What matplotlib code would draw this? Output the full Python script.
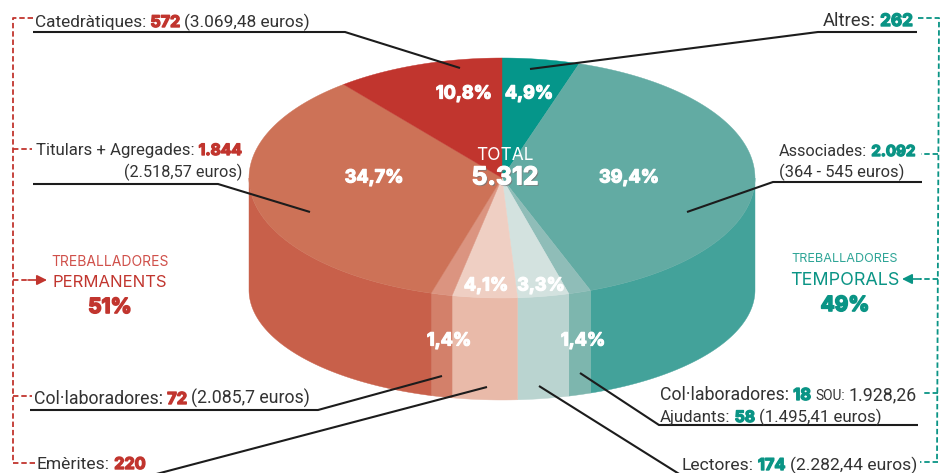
import numpy as np
import matplotlib
matplotlib.use("Agg")
import matplotlib.pyplot as plt
import matplotlib.patheffects as pe

plt.rcParams['font.family'] = ['Inter', 'DejaVu Sans']

# plantilla per categoria, en sentit horari des de dalt
categories = ['Altres', 'Associades', 'Col·lab+Ajudants', 'Lectores', 'Emèrites',
              'Col·laboradores', 'Titulars+Agregades', 'Catedràtiques']
counts = [262, 2092, 76, 174, 220, 72, 1844, 572]
pct_labels = ['4,9%', '39,4%', '1,4%', '3,3%', '4,1%', '1,4%', '34,7%', '10,8%']
top_colors = ['#05968A', '#62ABA3', '#8FBDB8', '#D3E2DF', '#EFCFC3', '#DB9480', '#CD7257', '#C1352E']
side_colors = ['#05968A', '#43A29A', '#7DB6AE', '#BAD4D0', '#E9BAA9', '#D3806A', '#C8604A', '#C1352E']

RED = '#C1352E'
TEAL = '#0A9485'
GREY = '#333333'
CX, CY, RX, RY = 502, 178, 253, 120
BOT_CY, BOT_RY = 290, 110

fig = plt.figure(figsize=(9.43, 4.73), dpi=100)
ax = fig.add_axes([0, 0, 1, 1])
ax.set_xlim(0, 943)
ax.set_ylim(473, 0)
ax.axis('off')
renderer = fig.canvas.get_renderer()


def rim(t, cy=CY, ry=RY):
    return CX + RX * np.sin(t), cy - ry * np.cos(t)


# pastis 3D
edges = 2 * np.pi * np.concatenate([[0], np.cumsum(counts)]) / sum(counts)
for i in range(len(counts)):
    a, b = max(edges[i], np.pi / 2), min(edges[i + 1], 3 * np.pi / 2)
    if b > a:
        t = np.linspace(a, b, 80)
        x1, y1 = rim(t)
        x2, y2 = rim(t[::-1], BOT_CY, BOT_RY)
        ax.fill(np.r_[x1, x2], np.r_[y1, y2], color=side_colors[i], lw=0.3, zorder=1)
for i in range(len(counts)):
    t = np.linspace(edges[i], edges[i + 1], 120)
    x1, y1 = rim(t)
    ax.fill(np.r_[CX, x1], np.r_[CY, y1], color=top_colors[i], lw=0.3, zorder=2)

# percentatges
pct_pos = [(529, 94), (629, 178), (583, 341), (541, 286), (486, 286), (449, 341), (374, 178), (464, 94)]
for lab, (px, py) in zip(pct_labels, pct_pos):
    ax.text(px, py, lab, color='white', fontsize=13, fontweight='bold', ha='center', va='center', zorder=5,
            path_effects=[pe.withStroke(linewidth=0.9, foreground='white')])

ax.text(505, 155, 'TOTAL', color='white', fontsize=12.5, ha='center', va='center', zorder=5)
ax.text(505, 178, '5.312', color='white', fontsize=18, fontweight='bold', ha='center', va='center', zorder=5,
        path_effects=[pe.withSimplePatchShadow(offset=(1, -1), shadow_rgbFace='#777777', alpha=0.8),
                      pe.withStroke(linewidth=0.8, foreground='white')])


def runs(x, y, parts, align='left', size=12.6):
    # parts: (text, color) o (text, color, 'bold'/'small'), baseline a y
    arts = []
    for p in parts:
        bold = len(p) > 2 and p[2] == 'bold'
        fs = size * 0.78 if len(p) > 2 and p[2] == 'small' else size
        if bold:
            tx = ax.text(0, y, p[0], color=p[1], fontsize=size * 0.93, fontweight='bold', family='Inter',
                         va='baseline', ha='left', zorder=6,
                         path_effects=[pe.withStroke(linewidth=1.0, foreground=p[1])])
        else:
            tx = ax.text(0, y, p[0], color=p[1], fontsize=fs, family='Roboto',
                         va='baseline', ha='left', zorder=6)
        arts.append(tx)
    gap = 4.2
    widths = [a.get_window_extent(renderer).width for a in arts]
    total = sum(widths) + gap * (len(arts) - 1)
    cur = x - total if align == 'right' else x
    for a, w in zip(arts, widths):
        a.set_x(cur)
        cur += w + gap


runs(35, 27, [('Catedràtiques:', GREY), ('572', RED, 'bold'), ('(3.069,48 euros)', GREY)], size=12.45)
runs(242, 155, [('Titulars + Agregades:', GREY), ('1.844', RED, 'bold')], 'right', size=12.1)
runs(242, 177, [('(2.518,57 euros)', GREY)], 'right', size=11.7)
runs(34, 404, [('Col·laboradores:', GREY), ('72', RED, 'bold'), ('(2.085,7 euros)', GREY)], size=12.75)
runs(37, 469, [('Emèrites:', GREY), ('220', RED, 'bold')])
runs(913, 26, [('Altres:', GREY), ('262', TEAL, 'bold')], 'right', size=13.3)
runs(779, 156, [('Associades:', GREY), ('2.092', TEAL, 'bold')], size=11.7)
runs(779, 177, [('(364 - 545 euros)', GREY)], size=11.9)
runs(660, 400, [('Col·laboradores:', GREY), ('18', TEAL, 'bold'), ('SOU:', GREY, 'small'), ('1.928,26', GREY)], size=12.75)
runs(660, 422, [('Ajudants:', GREY), ('58', TEAL, 'bold'), ('(1.495,41 euros)', GREY)], size=12.2)
runs(917, 470, [('Lectores:', GREY), ('174', TEAL, 'bold'), ('(2.282,44 euros)', GREY)], 'right')

# grups
ax.text(110, 262, 'TREBALLADORES', color='#D0504A', fontsize=10, ha='center', va='center')
ax.text(110, 282, 'PERMANENTS', color=RED, fontsize=12, ha='center', va='center')
ax.text(110, 307, '51%', color=RED, fontsize=15, fontweight='bold', ha='center', va='center',
        path_effects=[pe.withStroke(linewidth=1.2, foreground=RED)])
ax.text(845, 259, 'TREBALLADORES', color='#2FA597', fontsize=9.1, ha='center', va='center')
ax.text(845, 280, 'TEMPORALS', color=TEAL, fontsize=12.9, ha='center', va='center')
ax.text(845, 305, '49%', color=TEAL, fontsize=15, fontweight='bold', ha='center', va='center',
        path_effects=[pe.withStroke(linewidth=1.2, foreground=TEAL)])

# linies guia
leaders = [
    [(33, 32), (345, 32), (460, 68)],
    [(33, 184), (218, 184), (310, 212)],
    [(30, 410), (318, 410), (442, 376)],
    [(145, 477), (487, 387)],
    [(539, 386), (684, 477)],
    [(580, 373), (659, 425), (918, 425)],
    [(530, 69), (818, 32), (917, 32)],
    [(687, 212), (773, 182), (922, 182)],
]
for pts in leaders:
    xs, ys = zip(*pts)
    ax.plot(xs, ys, color='#1c1c1c', lw=1.5, zorder=4, solid_capstyle='butt', solid_joinstyle='miter')

# claudators discontinus
dash = dict(lw=1.3, ls=(0, (3, 1.6)), zorder=3)
ax.plot([33, 13, 13], [18, 18, 463], color=RED, **dash)
for y, x_end in [(149, 32), (396, 32), (463, 35), (280, 30)]:
    ax.plot([13, x_end], [y, y], color=RED, **dash)
ax.annotate('', xy=(47, 280), xytext=(28, 280),
            arrowprops=dict(arrowstyle='-|>', color=RED, lw=1.2, mutation_scale=15, shrinkA=0, shrinkB=0))
ax.plot([918, 939, 937], [18, 18, 462], color=TEAL, **dash)
for y, x_end in [(154, 921), (393, 922), (462, 920), (279, 920)]:
    ax.plot([938, x_end], [y, y], color=TEAL, **dash)
ax.annotate('', xy=(902, 279), xytext=(921, 279),
            arrowprops=dict(arrowstyle='-|>', color=TEAL, lw=1.2, mutation_scale=15, shrinkA=0, shrinkB=0))

fig.savefig('out.png', dpi=100)
